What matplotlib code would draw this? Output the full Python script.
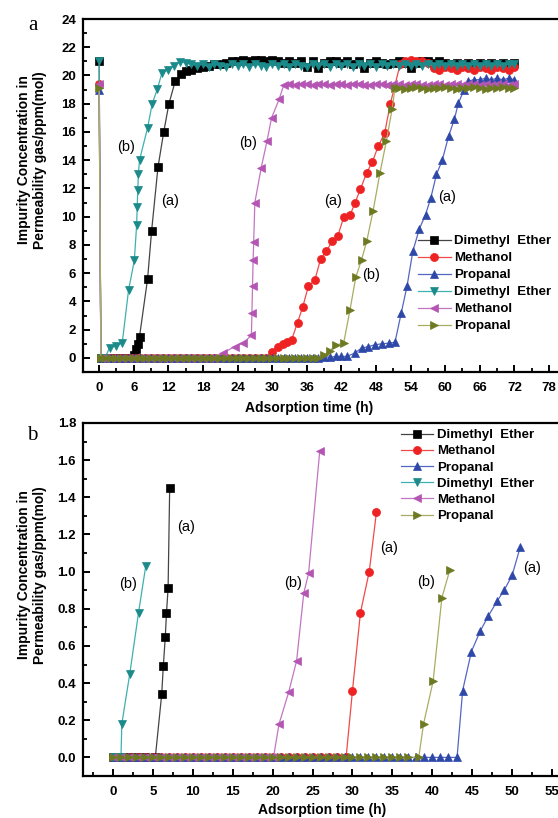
import matplotlib.pyplot as plt
from matplotlib.ticker import MultipleLocator

plt.rcParams['font.family'] = ['Liberation Sans', 'DejaVu Sans']

# ---------------- panel a: breakthrough curves, 0-72 h ----------------
dme_a_t = [0, 0.3, 1, 2, 3, 4, 5, 6, 6.4, 6.7,
           7.0, 8.4, 9.1, 10.2, 11.2, 12.1, 13.2, 14.2, 15.1, 16,
           17, 18, 19, 20, 21, 22, 23, 24, 25, 26,
           27, 28, 29, 30, 31, 32, 33, 34, 35, 36,
           37, 38, 39, 40, 41, 42, 43, 44, 45, 46,
           47, 48, 49, 50, 51, 52, 53, 54, 55, 56,
           57, 58, 59, 60, 61, 62, 63, 64, 65, 66,
           67, 68, 69, 70, 71, 72]
dme_a_v = [21.0, 0, 0, 0, 0, 0, 0, 0.2, 0.6, 1.0,
           1.5, 5.6, 9.0, 13.5, 16.0, 18.0, 19.6, 20.1, 20.3, 20.4,
           20.5, 20.6, 20.7, 20.8, 20.8, 20.9, 21.0, 21.0, 21.1, 21.0,
           21.1, 21.1, 21.0, 21.1, 21.0, 20.9, 21.0, 20.9, 21.0, 20.6,
           21.0, 20.5, 20.9, 21.0, 21.0, 20.9, 21.0, 20.8, 21.0, 20.5,
           20.9, 21.0, 20.9, 20.8, 20.9, 21.0, 20.9, 20.5, 20.9, 21.0,
           21.0, 20.9, 21.0, 20.9, 20.8, 20.9, 20.8, 20.9, 20.8, 20.9,
           20.8, 20.9, 20.8, 20.9, 20.8, 20.9]

meoh_a_t = [0, 0.3, 1, 2, 3, 4, 5, 6, 7, 8,
            9, 10, 11, 12, 13, 14, 15, 16, 17, 18,
            19, 20, 21, 22, 23, 24, 25, 26, 27, 28,
            29, 30.0, 31.0, 31.9, 32.6, 33.4, 34.4, 35.3, 36.3, 37.4,
            38.4, 39.4, 40.4, 41.4, 42.4, 43.5, 44.4, 45.3, 46.4, 47.4,
            48.4, 49.5, 50.5, 52.2, 53, 54, 55, 56, 57, 58,
            59, 60, 61, 62, 63, 64, 65, 66, 67, 68,
            69, 70, 71, 72]
meoh_a_v = [19.4, 0, 0, 0, 0, 0, 0, 0, 0, 0,
            0, 0, 0, 0, 0, 0, 0, 0, 0, 0,
            0, 0, 0, 0, 0, 0, 0, 0, 0, 0,
            0, 0.4, 0.8, 0.97, 1.1, 1.3, 2.5, 3.6, 5.1, 5.5,
            7.0, 7.55, 8.25, 8.65, 9.95, 10.1, 11.0, 11.95, 13.1, 13.9,
            15.0, 15.9, 18.0, 20.8, 21.0, 21.1, 21.0, 21.0, 20.9, 20.5,
            20.4, 20.6, 20.5, 20.4, 20.6, 20.5, 20.4, 20.6, 20.5, 20.4,
            20.6, 20.5, 20.4, 20.6]

prop_a_t = [0, 0.3, 1, 2, 3, 4, 5, 6, 7, 8,
            9, 10, 11, 12, 13, 14, 15, 16, 17, 18,
            19, 20, 21, 22, 23, 24, 25, 26, 27, 28,
            29, 30, 31, 32, 33, 34, 35, 36, 37, 38,
            39, 40, 41.1, 42, 42.9, 44.3, 45.5, 46.7, 47.8, 49.0,
            50.2, 51.3, 52.4, 53.4, 54.4, 55.5, 56.6, 57.5, 58.5, 59.5,
            60.6, 61.6, 62.3, 63.3, 64, 65, 66, 67, 68, 69,
            70, 71, 72]
prop_a_v = [19.0, 0, 0, 0, 0, 0, 0, 0, 0, 0,
            0, 0, 0, 0, 0, 0, 0, 0, 0, 0,
            0, 0, 0, 0, 0, 0, 0, 0, 0, 0,
            0, 0, 0, 0, 0, 0, 0, 0, 0, 0,
            0.05, 0.05, 0.1, 0.1, 0.1, 0.33, 0.7, 0.8, 0.92, 1.0,
            1.04, 1.1, 3.2, 5.1, 7.55, 9.1, 10.15, 11.3, 13.0, 14.0,
            15.7, 16.9, 18.05, 19.0, 19.6, 19.7, 19.7, 19.8, 19.7, 19.8,
            19.7, 19.8, 19.7]

dme_b_t = [0, 0.3, 1, 1.8, 3.0, 4.0, 5.1, 6.1, 6.5, 6.6,
           6.7, 6.8, 7.0, 8.4, 9.2, 10.1, 10.9, 12.0, 13.0, 14.0,
           15, 16, 17, 18, 19, 20, 21, 22, 23, 24,
           25, 26, 27, 28, 29, 30, 31, 32, 33, 34,
           35, 36, 37, 38, 39, 40, 41, 42, 43, 44,
           45, 46, 47, 48, 49, 50, 51, 52, 53, 54,
           55, 56, 57, 58, 59, 60, 61, 62, 63, 64,
           65, 66, 67, 68, 69, 70, 71, 72]
dme_b_v = [21.0, 0, 0, 0.7, 0.85, 1.05, 4.8, 6.9, 9.4, 10.7,
           11.9, 13.0, 14.0, 16.3, 18.0, 19.05, 20.2, 20.4, 20.7, 20.95,
           20.9, 20.8, 20.7, 20.8, 20.6, 20.8, 20.7, 20.6, 20.8, 20.7,
           20.8, 20.6, 20.8, 20.7, 20.6, 20.8, 20.7, 20.8, 20.6, 20.8,
           20.7, 20.6, 20.8, 20.7, 20.8, 20.6, 20.8, 20.7, 20.8, 20.6,
           20.8, 20.7, 20.8, 20.6, 20.8, 20.7, 20.8, 20.7, 20.8, 20.7,
           20.8, 20.7, 20.8, 20.7, 20.8, 20.7, 20.8, 20.7, 20.8, 20.7,
           20.8, 20.7, 20.8, 20.7, 20.8, 20.7, 20.8, 20.8]

meoh_b_t = [0, 0.3, 1, 2, 3, 4, 5, 6, 7, 8,
            9, 10, 11, 12, 13, 14, 15, 16, 17, 18,
            19, 20, 21.5, 23.5, 25.0, 26.4, 26.5, 26.6, 26.7, 26.8,
            27.0, 28.1, 29.1, 29.9, 31.2, 32.0, 33, 34, 35, 36,
            37, 38, 39, 40, 41, 42, 43, 44, 45, 46,
            47, 48, 49, 50, 51, 52, 53, 54, 55, 56,
            57, 58, 59, 60, 61, 62, 63, 64, 65, 66,
            67, 68, 69, 70, 71, 72]
meoh_b_v = [19.4, 0, 0, 0, 0, 0, 0, 0, 0, 0,
            0, 0, 0, 0, 0, 0, 0, 0, 0, 0,
            0, 0, 0.35, 0.8, 1.05, 1.6, 3.2, 5.1, 6.9, 8.2,
            11.0, 13.45, 15.35, 17.0, 18.3, 19.3, 19.4, 19.35, 19.4, 19.4,
            19.35, 19.4, 19.4, 19.35, 19.4, 19.4, 19.35, 19.4, 19.4, 19.35,
            19.35, 19.4, 19.4, 19.35, 19.4, 19.4, 19.35, 19.4, 19.4, 19.35,
            19.35, 19.4, 19.4, 19.35, 19.4, 19.4, 19.35, 19.4, 19.4, 19.35,
            19.4, 19.35, 19.4, 19.4, 19.35, 19.4]

prop_b_t = [0, 0.3, 1, 2, 3, 4, 5, 6, 7, 8,
            9, 10, 11, 12, 13, 14, 15, 16, 17, 18,
            19, 20, 21, 22, 23, 24, 25, 26, 27, 28,
            29, 30, 31, 32, 33, 34, 35, 36, 37, 38,
            39, 40, 41.1, 42.4, 43.5, 44.5, 45.5, 46.4, 47.5, 48.7,
            49.8, 50.8, 51.3, 52, 53, 54, 55, 56, 57, 58,
            59, 60, 61, 62, 63, 64, 65, 66, 67, 68,
            69, 70, 71, 72]
prop_b_v = [19.1, 0, 0, 0, 0, 0, 0, 0, 0, 0,
            0, 0, 0, 0, 0, 0, 0, 0, 0, 0,
            0, 0, 0, 0, 0, 0, 0, 0, 0, 0,
            0, 0, 0, 0, 0, 0, 0, 0, 0, 0,
            0.2, 0.5, 0.92, 1.04, 3.4, 5.7, 6.95, 8.25, 10.4, 13.1,
            15.35, 17.6, 19.1, 19.1, 19.05, 19.1, 19.15, 19.1, 19.05, 19.1,
            19.1, 19.15, 19.1, 19.05, 19.1, 19.1, 19.15, 19.1, 19.05, 19.1,
            19.1, 19.15, 19.1, 19.1]

# ---------------- panel b: early breakthrough, 0-1.8 ppm ----------------
s_dme_a_t = [0, 1, 2, 3, 4, 5.3, 6.1, 6.3, 6.55, 6.7, 6.9, 7.1]
s_dme_a_v = [0, 0, 0, 0, 0, 0, 0.34, 0.49, 0.65, 0.78, 0.91, 1.45]

s_meoh_a_t = [0, 1, 2, 3, 4, 5, 6, 7, 8, 9,
              10, 11, 12, 13, 14, 15, 16, 17, 18, 19,
              20, 21, 22, 23, 24, 25, 26, 27, 28, 29.2,
              30.0, 31.0, 32.1, 33.0]
s_meoh_a_v = [0, 0, 0, 0, 0, 0, 0, 0, 0, 0,
              0, 0, 0, 0, 0, 0, 0, 0, 0, 0,
              0, 0, 0, 0, 0, 0, 0, 0, 0, 0,
              0.36, 0.78, 1.0, 1.32]

s_prop_a_t = [0, 1, 2, 3, 4, 5, 6, 7, 8, 9,
              10, 11, 12, 13, 14, 15, 16, 17, 18, 19,
              20, 21, 22, 23, 24, 25, 26, 27, 28, 29,
              30, 31, 32, 33, 34, 35, 36, 37, 38, 39,
              40, 41, 42, 43.1, 43.8, 44.9, 46.0, 47.0, 48.1, 49.0,
              50.0, 51.0]
s_prop_a_v = [0, 0, 0, 0, 0, 0, 0, 0, 0, 0,
              0, 0, 0, 0, 0, 0, 0, 0, 0, 0,
              0, 0, 0, 0, 0, 0, 0, 0, 0, 0,
              0, 0, 0, 0, 0, 0, 0, 0, 0, 0,
              0, 0, 0, 0, 0.36, 0.57, 0.68, 0.76, 0.84, 0.90,
              0.98, 1.13]

s_dme_b_t = [0, 0.5, 1.0, 1.1, 2.1, 3.2, 4.1]
s_dme_b_v = [0, 0, 0, 0.18, 0.45, 0.78, 1.03]

s_meoh_b_t = [0, 1, 2, 3, 4, 5, 6, 7, 8, 9,
              10, 11, 12, 13, 14, 15, 16, 17, 18, 19,
              20.1, 20.8, 22.0, 23.0, 23.9, 24.5, 25.9]
s_meoh_b_v = [0, 0, 0, 0, 0, 0, 0, 0, 0, 0,
              0, 0, 0, 0, 0, 0, 0, 0, 0, 0,
              0, 0.18, 0.35, 0.52, 0.885, 0.99, 1.65]

s_prop_b_t = [0, 1, 2, 3, 4, 5, 6, 7, 8, 9,
              10, 11, 12, 13, 14, 15, 16, 17, 18, 19,
              20, 21, 22, 23, 24, 25, 26, 27, 28, 29,
              30, 31, 32, 33, 34, 35, 36, 37, 38.3, 38.9,
              40.1, 41.2, 42.2]
s_prop_b_v = [0, 0, 0, 0, 0, 0, 0, 0, 0, 0,
              0, 0, 0, 0, 0, 0, 0, 0, 0, 0,
              0, 0, 0, 0, 0, 0, 0, 0, 0, 0,
              0, 0, 0, 0, 0, 0, 0, 0, 0, 0.18,
              0.41, 0.86, 1.01]

labels = ['Dimethyl  Ether', 'Methanol', 'Propanal',
          'Dimethyl  Ether', 'Methanol', 'Propanal']
markers = ['s', 'o', '^', 'v', '<', '>']
marker_colors = ['#000000', '#ee2222', '#2e48a8', '#1b8a8a', '#b455b4', '#6e7a22']
line_colors = ['#444444', '#f04a4a', '#5566c4', '#3fb0b0', '#c276c2', '#a9ad62']

top_series = [(dme_a_t, dme_a_v), (meoh_a_t, meoh_a_v), (prop_a_t, prop_a_v),
              (dme_b_t, dme_b_v), (meoh_b_t, meoh_b_v), (prop_b_t, prop_b_v)]
bottom_series = [(s_dme_a_t, s_dme_a_v), (s_meoh_a_t, s_meoh_a_v), (s_prop_a_t, s_prop_a_v),
                 (s_dme_b_t, s_dme_b_v), (s_meoh_b_t, s_meoh_b_v), (s_prop_b_t, s_prop_b_v)]

W, H = 558, 818
fig = plt.figure(figsize=(W / 100, H / 100), dpi=100)


def px(x, y):
    # pixel position in the picture -> figure fraction
    return x / W, 1 - y / H


ax_a = fig.add_axes([83 / W, 1 - 372 / H, 489 / W, 353 / H])
ax_b = fig.add_axes([83 / W, 1 - 776 / H, 489 / W, 353 / H])


def draw(ax, series):
    for (t, v), lab, mk, mc, lc in zip(series, labels, markers, marker_colors, line_colors):
        ax.plot(t, v, color=lc, lw=0.9, marker=mk, ms=5.8, mfc=mc, mec=mc,
                mew=0.5, label=lab)


def style(ax, xmaj, xmin, ymaj, ymin):
    ax.xaxis.set_major_locator(MultipleLocator(xmaj))
    ax.xaxis.set_minor_locator(MultipleLocator(xmin))
    ax.yaxis.set_major_locator(MultipleLocator(ymaj))
    ax.yaxis.set_minor_locator(MultipleLocator(ymin))
    ax.tick_params(which='major', direction='in', length=5, width=1.4,
                   labelsize=9.5, pad=5)
    ax.tick_params(axis='x', which='major', pad=7)
    ax.tick_params(which='minor', direction='in', length=3, width=1.3)
    for sp in ax.spines.values():
        sp.set_linewidth(1.6)
    for lab in ax.get_xticklabels() + ax.get_yticklabels():
        lab.set_fontweight('bold')


draw(ax_a, top_series)
ax_a.set_xlim(-2.8, 82)
ax_a.set_ylim(-1, 24)
style(ax_a, 6, 3, 2, 1)

draw(ax_b, bottom_series)
ax_b.set_xlim(-3.76, 57.5)
ax_b.set_ylim(-0.1, 1.8)
style(ax_b, 5, 2.5, 0.2, 0.1)
ax_b.yaxis.set_major_formatter(plt.FormatStrFormatter('%.1f'))
for lab in ax_b.get_yticklabels():
    lab.set_fontweight('bold')

leg_font = {'weight': 'bold', 'size': 9.5}
ax_a.legend(loc='upper left', bbox_to_anchor=px(418, 235), bbox_transform=fig.transFigure,
            frameon=False, prop=leg_font, handlelength=2.5, handletextpad=0.25,
            labelspacing=0.36, borderpad=0, borderaxespad=0)
ax_b.legend(loc='upper left', bbox_to_anchor=px(401, 429), bbox_transform=fig.transFigure,
            frameon=False, prop=leg_font, handlelength=2.4, handletextpad=0.3,
            labelspacing=0.3, borderpad=0, borderaxespad=0)

# axis titles
ylab = 'Impurity Concentration in\nPermeability gas/ppm(mol)'
fig.text(*px(32, 160), ylab, rotation=90, ha='center', va='center',
         fontsize=10, fontweight='bold', multialignment='center')
fig.text(*px(32, 575), ylab, rotation=90, ha='center', va='center',
         fontsize=10, fontweight='bold', multialignment='center')
fig.text(*px(309, 408), 'Adsorption time (h)', ha='center', va='center',
         fontsize=10, fontweight='bold')
fig.text(*px(322, 810), 'Adsorption time (h)', ha='center', va='center',
         fontsize=10, fontweight='bold')

# panel letters
fig.text(*px(33, 25), 'a', ha='center', va='center', fontsize=15,
         family=['Liberation Serif', 'DejaVu Serif'])
fig.text(*px(32, 435), 'b', ha='center', va='center', fontsize=15,
         family=['Liberation Serif', 'DejaVu Serif'])

# curve tags
tags = [(126, 147, '(b)'), (170, 201, '(a)'), (248, 143, '(b)'), (333, 201, '(a)'),
        (371, 275, '(b)'), (447, 197, '(a)'),
        (186, 527, '(a)'), (128, 584, '(b)'), (293, 583, '(b)'), (389, 548, '(a)'),
        (426, 582, '(b)'), (532, 568, '(a)')]
for x, y, s in tags:
    fig.text(*px(x, y), s, ha='center', va='center', fontsize=10.5)

fig.savefig('out.png', dpi=100)
